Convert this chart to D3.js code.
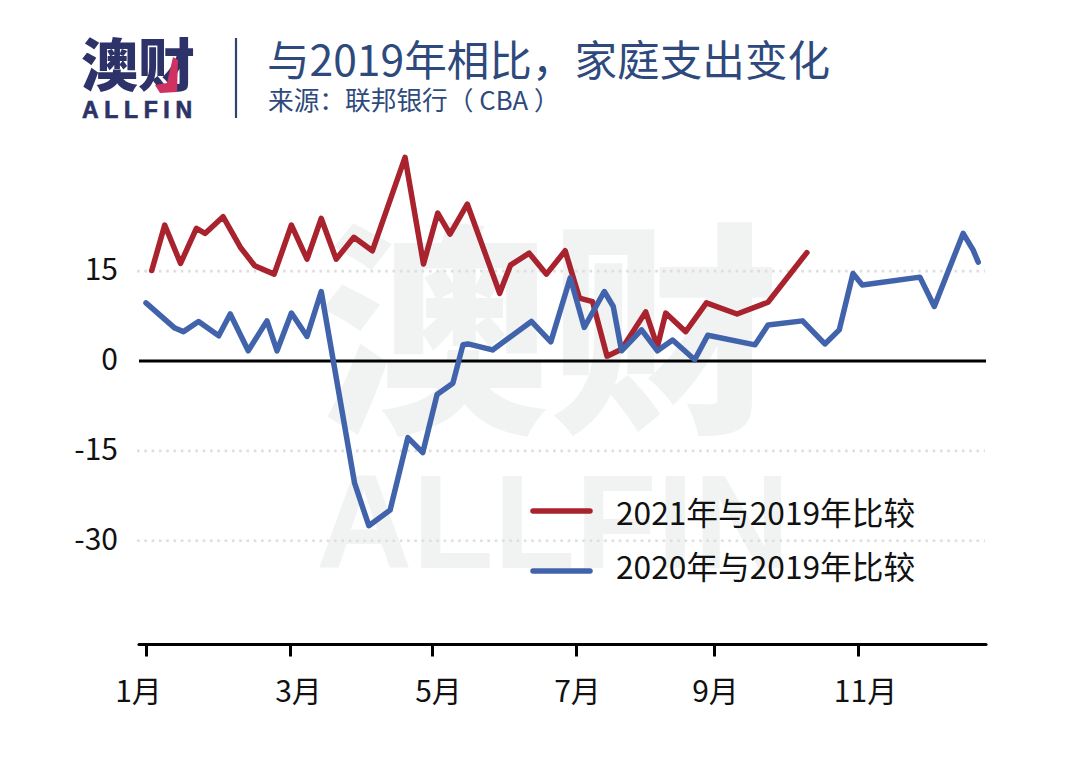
<!DOCTYPE html>
<html lang="zh">
<head>
<meta charset="utf-8">
<script src="https://cdn.jsdelivr.net/npm/d3@7/dist/d3.min.js"></script>
<style>
html,body{margin:0;padding:0;background:#fff;}
svg{display:block;}
text{font-family:"Noto Sans CJK SC","Noto Sans",sans-serif;}
</style>
</head>
<body>
<svg id="c" width="1080" height="767"></svg>
<script>
// Data: month position (decimal) and % change vs 2019
const months2021 = [1.08,1.26,1.48,1.70,1.82,2.07,2.31,2.51,2.78,3.02,3.24,3.44,3.65,3.90,4.16,4.62,4.88,5.08,5.25,5.49,5.94,6.09,6.35,6.59,6.85,7.05,7.24,7.45,7.66,8.01,8.18,8.30,8.59,8.89,9.32,9.75,10.29];
const values2021 = [15.1,22.7,16.3,22.15,21.3,24.1,19.0,15.9,14.5,22.7,17.0,23.8,17.0,20.65,18.4,34.0,16.2,24.7,21.2,26.2,11.3,16.0,18.0,14.5,18.4,10.5,9.9,0.8,1.95,8.2,2.4,8.0,4.9,9.7,7.85,9.8,18.1];
const months2020 = [1.0,1.40,1.52,1.73,2.01,2.17,2.42,2.68,2.82,3.02,3.24,3.44,3.91,4.11,4.41,4.66,4.87,5.07,5.29,5.43,5.50,5.84,6.38,6.65,6.92,7.12,7.41,7.54,7.66,7.95,8.18,8.40,8.72,8.91,9.57,9.75,10.23,10.54,10.74,10.93,11.06,11.86,12.06,12.46,12.60,12.67];
const values2020 = [9.7,5.5,4.9,6.6,4.2,7.85,1.7,6.7,1.7,8.0,4.1,11.6,-20.4,-27.5,-24.9,-12.8,-15.3,-5.6,-3.7,2.7,2.85,1.85,6.6,3.2,13.9,5.6,11.6,9.1,1.7,5.2,1.7,3.5,0.2,4.3,2.7,6.0,6.7,2.85,5.2,14.6,12.7,14.0,9.1,21.3,18.5,16.5];
const monthTicks = [1,3,5,7,9,11];
const monthLabels = ["1月","3月","5月","7月","9月","11月"];
const valueTicks = [15,0,-15,-30];
const valueLabels = ["15","0","-15","-30"];
const seriesNames = ["2021年与2019年比较","2020年与2019年比较"];
const seriesColors = ["#a8232d","#4163ab"];
const titleText = "与2019年相比，家庭支出变化";
const sourceText = "来源：联邦银行（ CBA ）";

const svg = d3.select("#c");
const x = d3.scaleLinear().domain(monthTicks).range([146,290,432,576,714,858]);
const y = d3.scaleLinear().domain([0,-30]).range([361,540.7]);

// Watermark
const wm = svg.append("g").attr("fill","#f1f3f3");
wm.append("text").attr("x",318).attr("y",415).attr("font-size",225).attr("font-weight",900)
  .attr("textLength",462).attr("lengthAdjust","spacingAndGlyphs").text("澳财");
wm.append("text").attr("x",316).attr("y",568).attr("font-size",134).attr("font-weight",700)
  .attr("textLength",474).attr("lengthAdjust","spacingAndGlyphs")
  .style("font-family",'"Liberation Sans",sans-serif').text("ALLFIN");

// Header
const logo = svg.append("g");
logo.append("text").attr("x",81).attr("y",86).attr("font-size",57).attr("font-weight",900).attr("fill","#2d3369").text("澳财");
logo.append("path").attr("d","M173 57L178 60L177 92L160 93L155 85L167 83Z").attr("fill","#cf3160");
logo.append("text").attr("x",82).attr("y",117.5).attr("font-size",23).attr("font-weight",700)
  .attr("textLength",110).attr("stroke","#2d3369").attr("stroke-width",0.7)
  .style("font-family",'"Liberation Sans",sans-serif').attr("fill","#2d3369").text("ALLFIN");
svg.append("line").attr("x1",236).attr("x2",236).attr("y1",38).attr("y2",118).attr("stroke","#2f4373").attr("stroke-width",2.2);
svg.append("text").attr("x",267).attr("y",76).attr("font-size",42.6).attr("fill","#2e4a7d").text(titleText);
svg.append("text").attr("x",268).attr("y",110).attr("font-size",25.7).attr("fill","#2e4a7d").text(sourceText);

// Grid (dotted) and zero line
svg.append("g").selectAll("line").data(valueTicks.filter(d=>d!==0)).join("line")
  .attr("x1",137).attr("x2",985).attr("y1",d=>y(d)).attr("y2",d=>y(d))
  .attr("stroke","#dedede").attr("stroke-width",2.6).attr("stroke-dasharray","2.6 4.7");

// Y axis labels
const yAxis = d3.axisLeft(y).tickValues(valueTicks).tickSize(0).tickPadding(0)
  .tickFormat((d,i)=>valueLabels[i]);
const gy = svg.append("g").attr("transform","translate(118,0)").call(yAxis);
gy.select(".domain").remove();
gy.selectAll("text").attr("font-size",30).attr("fill","#111").attr("dy","0.29em").style("font-family",null);

svg.append("line").attr("x1",139).attr("x2",986).attr("y1",y(0)).attr("y2",y(0)).attr("stroke","#000").attr("stroke-width",3);

// X axis
const labelShift = [-8,8,6,1,1,7];
const xAxis = d3.axisBottom(x).tickValues(monthTicks).tickSize(12).tickSizeOuter(0).tickPadding(24)
  .tickFormat((d,i)=>monthLabels[i]);
const gx = svg.append("g").attr("transform","translate(0,644.5)").call(xAxis);
gx.select(".domain").remove();
gx.append("line").attr("x1",139).attr("x2",986).attr("stroke","#000").attr("stroke-width",3.2).attr("stroke-linecap","round");
gx.selectAll(".tick line").attr("stroke","#000").attr("stroke-width",3);
gx.selectAll(".tick text").attr("font-size",30).attr("fill","#111").attr("dx",(d,i)=>labelShift[i]).style("font-family",null);

// Lines
const line = d3.line().x(d=>x(d[0])).y(d=>y(d[1]));
const series = [d3.zip(months2021,values2021), d3.zip(months2020,values2020)];
svg.append("g").selectAll("path").data(series).join("path")
  .attr("d",line).attr("fill","none").attr("stroke",(d,i)=>seriesColors[i])
  .attr("stroke-width",5.5).attr("stroke-linejoin","round").attr("stroke-linecap","round");

// Legend
const legendLineY = [511,571];
const legendTextY = [525,579];
const lg = svg.append("g").selectAll("g").data(seriesNames).join("g");
lg.append("line").attr("x1",533).attr("x2",590).attr("y1",(d,i)=>legendLineY[i]).attr("y2",(d,i)=>legendLineY[i])
  .attr("stroke",(d,i)=>seriesColors[i]).attr("stroke-width",5.5).attr("stroke-linecap","round");
lg.append("text").attr("x",616).attr("y",(d,i)=>legendTextY[i]).attr("font-size",31.7).attr("fill","#111").text(d=>d);
</script>
</body>
</html>
